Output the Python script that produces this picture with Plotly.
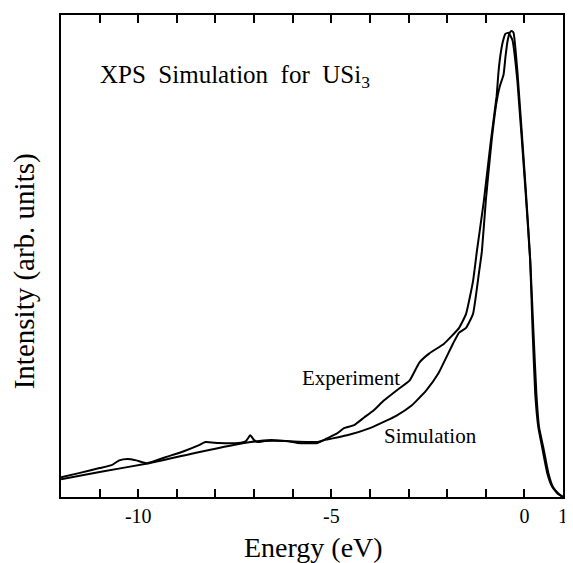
import plotly.graph_objects as go

# Energy (eV) and intensity (arb. units, 0-100)
exp_energy = [-12.00, -11.51, -11.00, -10.69, -10.49, -10.28, -10.05, -9.77, -9.28, -8.82,
              -8.44, -8.26, -7.92, -7.41, -7.21, -7.10, -7.00, -6.90, -6.72, -6.21,
              -6.00, -5.87, -5.36, -5.10, -4.85, -4.67, -4.41, -4.15, -3.90, -3.64,
              -3.31, -2.97, -2.72, -2.46, -2.08, -1.69, -1.51, -1.33, -1.23, -1.05,
              -0.87, -0.72, -0.67, -0.62, -0.56, -0.49, -0.41, -0.31, -0.18, 0.03,
              0.15, 0.21, 0.28, 0.36, 0.46, 0.59, 0.72, 0.87, 1.00]
exp_intensity = [4.1, 5.0, 6.0, 6.6, 7.6, 7.9, 7.6, 7.0, 8.3, 9.5,
                 10.7, 11.4, 11.2, 11.2, 11.6, 12.8, 11.8, 11.4, 11.6, 11.6,
                 11.4, 11.2, 11.2, 12.2, 13.2, 14.3, 14.9, 16.5, 18.0, 20.0,
                 22.1, 24.2, 27.9, 29.8, 31.8, 35.1, 38.0, 44.8, 51.0, 61.4,
                 73.8, 83.1, 88.2, 91.7, 94.4, 96.1, 96.3, 94.8, 86.2, 63.4,
                 49.0, 35.1, 21.5, 14.5, 10.3, 5.0, 2.1, 0.6, 0.0]

sim_energy = [-12.00, -11.00, -9.72, -8.44, -7.08, -6.56, -6.13, -5.36, -5.18, -4.59,
              -4.00, -3.56, -3.31, -2.92, -2.79, -2.54, -2.23, -1.85, -1.69, -1.51,
              -1.33, -1.18, -1.10, -1.00, -0.85, -0.72, -0.64, -0.54, -0.49, -0.44,
              -0.38, -0.33, -0.28, -0.18, 0.03, 0.15, 0.23, 0.31, 0.38, 0.49,
              0.62, 0.74, 0.90, 1.00]
sim_intensity = [3.7, 5.2, 7.0, 9.3, 11.4, 11.8, 11.6, 11.4, 11.8, 12.8,
                 14.3, 15.9, 16.9, 19.0, 20.0, 22.1, 25.6, 31.8, 34.1, 35.1,
                 38.0, 46.3, 51.0, 61.4, 73.8, 82.0, 85.1, 87.6, 91.3, 94.4,
                 96.3, 96.7, 96.3, 88.2, 64.5, 49.4, 35.1, 21.5, 14.5, 10.3,
                 5.0, 2.1, 0.6, 0.0]

tick_vals = [-11, -10, -9, -8, -7, -6, -5, -4, -3, -2, -1, 0, 1]
tick_text = ["", "-10", "", "", "", "", "-5", "", "", "", "", "0", "1"]
x_range = [-12, 1]
y_range = [0, 100]

SERIF = "Liberation Serif"

fig = go.Figure()
fig.add_trace(go.Scatter(x=exp_energy, y=exp_intensity, mode="lines", name="Experiment",
                         line=dict(color="black", width=2, shape="spline", smoothing=0.4)))
fig.add_trace(go.Scatter(x=sim_energy, y=sim_intensity, mode="lines", name="Simulation",
                         line=dict(color="black", width=2, shape="spline", smoothing=0.4)))

fig.update_layout(
    width=565, height=555,
    margin=dict(l=53, r=5, t=5, b=66),
    paper_bgcolor="white", plot_bgcolor="white",
    showlegend=False,
    xaxis=dict(range=x_range, showline=True, linecolor="black", linewidth=2,
               mirror="ticks", showgrid=False, zeroline=False,
               ticks="inside", ticklen=8, tickwidth=2, tickcolor="black",
               tickvals=tick_vals, ticktext=tick_text,
               tickfont=dict(family=SERIF, size=20, color="black")),
    yaxis=dict(range=y_range, showline=True, linecolor="black", linewidth=2,
               mirror=True, showgrid=False, zeroline=False,
               showticklabels=False),
    annotations=[
        dict(text="XPS\u00a0 Simulation\u00a0 for\u00a0 USi<sub>3</sub>", x=-11.05, y=87.2,
             xref="x", yref="y", xanchor="left", yanchor="middle", showarrow=False,
             font=dict(family=SERIF, size=25, color="black")),
        dict(text="Experiment", x=-3.18, y=24.6, xref="x", yref="y",
             xanchor="right", yanchor="middle", showarrow=False,
             font=dict(family=SERIF, size=21, color="black")),
        dict(text="Simulation", x=-3.69, y=12.6, xref="x", yref="y",
             xanchor="left", yanchor="middle", showarrow=False,
             font=dict(family=SERIF, size=21, color="black")),
        dict(text="Energy (eV)", x=0.503, y=-0.105, xref="paper", yref="paper",
             xanchor="center", yanchor="middle", showarrow=False,
             font=dict(family=SERIF, size=28, color="black")),
        dict(text="Intensity (arb. units)", x=-0.071, y=0.469, xref="paper", yref="paper",
             xanchor="center", yanchor="middle", showarrow=False, textangle=-90,
             font=dict(family=SERIF, size=29, color="black")),
    ],
)

fig.write_html("out.html")
